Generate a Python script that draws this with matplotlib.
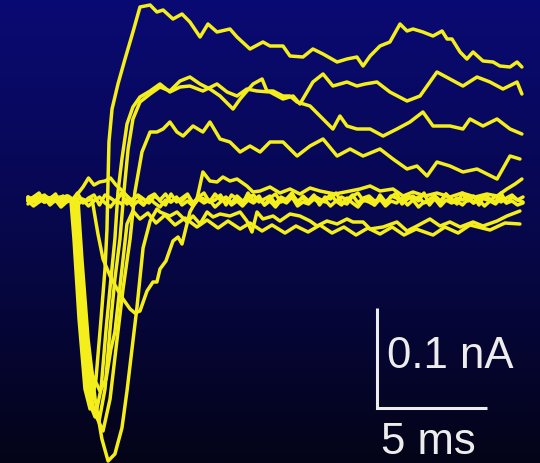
import numpy as np
import matplotlib
matplotlib.use("Agg")
import matplotlib.pyplot as plt
from matplotlib.colors import LinearSegmentedColormap

# ---------------------------------------------------------------------------
# Whole-cell voltage-clamp sweeps: time (ms) and membrane current (pA)
# ---------------------------------------------------------------------------

# sweep 1 – largest outward current
sweep1_t = [0.00, 0.36, 0.77, 1.14, 1.50, 1.77, 1.95, 2.09, 2.32, 2.59, 2.82,
            3.09, 3.32, 3.50, 3.59, 3.64, 3.68, 3.82, 4.09, 4.41, 4.77, 5.09,
            5.55, 5.86, 6.14, 6.59, 7.00, 7.36, 7.82, 8.18, 8.59, 9.18, 9.50,
            10.09, 10.68, 11.00, 11.59, 11.91, 12.50, 12.95, 13.41, 14.05,
            14.50, 14.95, 15.23, 15.55, 16.00, 16.45, 16.91, 17.23, 17.50,
            17.95, 18.41, 18.82, 19.05, 19.27, 19.64, 19.95, 20.23, 20.68,
            21.14, 21.45, 21.91, 22.23, 22.45]
sweep1_pA = [-1, 3, -3, 2, -2, 3, -1, -40, -120, -190, -210,
             -180, -120, -70, -30, 20, 57, 90, 115, 140, 167, 192,
             194, 187, 189, 180, 185, 177, 162, 175, 167, 170, 162,
             150, 157, 153, 153, 143, 142, 150, 145, 137,
             140, 142, 133, 143, 153, 157, 175, 168, 170,
             167, 163, 168, 160, 160, 147, 140, 147, 138,
             137, 133, 132, 137, 132]

# sweep 2
sweep2_t = [0.00, 0.32, 0.68, 1.05, 1.41, 1.73, 2.05, 2.18, 2.41, 2.73, 3.05,
            3.32, 3.55, 3.77, 3.95, 4.09, 4.27, 4.50, 4.77, 5.09, 5.55, 6.00,
            6.45, 6.91, 7.36, 7.95, 8.59, 9.05, 9.50, 9.95, 10.41, 11.00,
            11.59, 12.05, 12.36, 12.95, 13.41, 13.86, 14.50, 14.95, 15.32,
            15.86, 16.45, 17.23, 17.82, 18.59, 19.18, 19.77, 20.41, 21.00,
            21.59, 22.23, 22.45]
sweep2_pA = [1, -3, 3, -2, 2, -3, 0, -50, -130, -200, -218,
             -190, -130, -80, -40, 7, 40, 75, 92, 102, 108, 115,
             107, 112, 113, 108, 115, 107, 103, 110, 108, 107,
             100, 103, 95, 117, 125, 113, 117, 113, 115,
             117, 107, 98, 103, 127, 120, 113, 122, 117,
             110, 117, 105]

# sweep 3
sweep3_t = [0.00, 0.41, 0.82, 1.18, 1.55, 1.86, 2.14, 2.27, 2.50, 2.82, 3.23,
            3.50, 3.73, 3.95, 4.18, 4.36, 4.55, 4.77, 5.09, 5.55, 6.00, 6.45,
            6.91, 7.36, 7.82, 8.27, 8.73, 9.32, 9.64, 9.95, 10.23, 10.64,
            10.86, 11.14, 11.59, 11.91, 12.23, 12.82, 13.41, 13.86, 14.18,
            14.50, 14.95, 15.55, 16.14, 16.77, 17.36, 17.95, 18.41, 19.18,
            19.77, 20.09, 20.68, 21.32, 21.91, 22.45]
sweep3_pA = [-2, 2, -1, 3, -3, 1, -1, -50, -130, -200, -222,
             -190, -130, -80, -40, 7, 50, 80, 97, 105, 112, 108,
             118, 122, 115, 110, 103, 90, 100, 108, 115, 120,
             108, 108, 103, 103, 97, 93, 80, 70, 83,
             73, 70, 70, 63, 70, 77, 87, 73, 73,
             70, 80, 73, 80, 70, 65]

# sweep 4
sweep4_t = [0.00, 0.27, 0.64, 1.00, 1.36, 1.68, 2.23, 2.36, 2.64, 2.95, 3.41,
            3.73, 4.05, 4.32, 4.64, 4.86, 5.18, 5.55, 5.86, 6.14, 6.45, 6.77,
            7.05, 7.50, 7.95, 8.27, 8.73, 9.18, 9.64, 10.09, 10.55, 11.00,
            11.59, 12.23, 12.82, 13.41, 14.05, 14.64, 15.23, 16.00, 16.59,
            17.23, 17.68, 18.14, 18.59, 19.18, 19.77, 20.41, 21.32, 21.91,
            22.36]
sweep4_pA = [1, -2, 2, -3, 1, -2, 0, -50, -140, -210, -232,
             -200, -140, -90, -40, 7, 47, 67, 67, 70, 77, 67,
             63, 73, 67, 77, 60, 57, 47, 53, 47, 57,
             57, 43, 53, 60, 43, 50, 43, 50, 40,
             30, 33, 23, 37, 33, 27, 30, 20, 43,
             40]

# sweep 5 – slow, late inward current, small outward hump
sweep5_t = [0.00, 0.45, 0.86, 1.23, 1.59, 2.00, 2.36, 2.68, 2.91, 3.18, 3.41,
            3.73, 4.05, 4.32, 4.64, 4.86, 5.09, 5.41, 5.68, 5.86, 6.00, 6.27,
            6.59, 6.82, 7.00, 7.36, 7.68, 7.95, 8.27, 8.59, 8.86, 9.18, 9.50,
            9.95, 10.23, 10.55, 11.00, 11.45, 11.91, 12.36, 12.82, 13.27,
            13.95, 14.64, 15.09, 15.55, 16.00, 16.59, 17.05, 17.50, 18.05,
            18.59, 19.18, 19.73, 20.32, 20.86, 21.32, 21.77, 22.14, 22.45]
sweep5_pA = [0, -3, 2, -2, 3, -2, 1, -2, 0, -35, -60,
             -77, -90, -100, -110, -114, -112, -92, -83, -83, -70, -62,
             -42, -38, -45, -13, 0, 27, 18, 17, 22, 18, 20,
             13, 7, 8, 12, 6, 10, 5, 11, 8,
             5, 8, 10, 13, 8, 10, 3, 7, 3,
             6, 2, 6, 2, 5, 3, 10, 15, 20]

# sweep 6 – deepest inward current, net inward afterwards
sweep6_t = [0.00, 0.41, 0.77, 1.14, 1.50, 1.91, 2.27, 2.45, 2.73, 3.05, 3.36,
            3.64, 3.95, 4.27, 4.50, 4.77, 4.95, 5.23, 5.55, 5.86, 6.00, 6.45,
            6.77, 7.23, 7.50, 7.82, 8.14, 8.41, 8.73, 9.18, 9.64, 9.95, 10.18,
            10.41, 10.68, 11.14, 11.45, 11.91, 12.36, 12.82, 13.14, 13.59,
            14.05, 14.50, 14.77, 15.23, 15.55, 16.14, 16.77, 17.23, 17.68,
            18.27, 18.73, 19.18, 19.64, 20.23, 20.68, 21.32, 21.77, 22.36]
sweep6_pA = [2, -2, 1, -3, 2, -2, 0, -60, -140, -200, -240,
             -262, -255, -229, -192, -142, -109, -49, -22, -10, -13, -17,
             -13, -23, -17, -25, -13, -18, -15, -17, -13, -22, -33,
             -13, -20, -17, -22, -15, -17, -22, -27, -22,
             -25, -20, -23, -23, -30, -28, -23, -32, -27,
             -20, -27, -23, -28, -23, -27, -22, -17, -12]

# sweep 7 – moderate inward current, net inward afterwards
sweep7_t = [0.00, 0.36, 0.73, 1.09, 1.45, 1.82, 2.09, 2.27, 2.55, 2.91, 3.27,
            3.55, 3.77, 3.95, 4.27, 4.50, 4.77, 5.09, 5.45, 5.82, 6.23, 6.68,
            7.14, 7.68, 8.14, 8.64, 9.09, 9.64, 10.09, 10.64, 11.09, 11.68,
            12.18, 12.73, 13.27, 13.82, 14.36, 14.91, 15.45, 16.00, 16.55,
            17.09, 17.64, 18.41, 18.95, 19.55, 20.09, 21.00, 21.68, 22.36]
sweep7_pA = [-1, 2, -3, 1, -2, 3, -1, -60, -130, -175, -192,
             -180, -150, -133, -70, -25, -12, -20, -14, -24, -16, -26,
             -19, -28, -21, -29, -22, -30, -24, -32, -26, -34,
             -27, -33, -26, -34, -28, -36, -29, -35, -28,
             -36, -30, -36, -28, -34, -26, -31, -24, -25]

# sweeps 8-10 – subthreshold steps, sampled every 0.25 ms
baseline_dt = 0.25
sweep8_pA = [2, -3, 1, 4, -2, 3, -4, 2, -1,
             5, 12, 21, 14, 17, 18, 21, 14, 9, 3,
             -2, 4, 0, -4, 3, -1, 5, -3, 1,
             -2, 4, -4, 2, 0, -3, 5, -1, 2,
             -4, 3, -2, 1, 4, -3, 0, 3, -5,
             2, -1, 4, -2, 1, -4, 3, 0, -3,
             5, -2, 2, -1, 4, -4, 1, 3, -2,
             0, -5, 3, 1, -3, 4, -1, 2, -4,
             0, 3, -2, 5, -3, 1, -1, 4, -4,
             2, 0, -2, 3, -3, 1, 4, -1, 2]
sweep9_pA = [-5, 2, 6, -3, 0, 5, -6, 3, -2, 6, -4, 1, 4,
             -6, 4, 1, -3, 6, -5, 0, 3, -6, 2, 5, -2, -6,
             5, -3, 1, 5, -5, 2, 6, -3, -1, 4, -6, 4, 0,
             -5, 6, -2, 3, -6, 1, 5, -3, 0, 6, -4, 3, -2,
             4, -6, 2, 0, 6, -3, -5, 3, 6, -2, 0, -6, 4,
             -3, 2, 6, -5, 0, 3, -2, 6, -6, 1, -3, 5, 0,
             -5, 6, -2, 3, -6, 4, 0, -3, 6, -4, 2, -1, -3]
sweep10_pA = [-2, -7, -3, 1, -6, -1, -8, -3, 0, -6, -1, -7, -2,
              2, -4, -8, -1, -5, 0, -7, -2, -6, 1, -4, -8, -1,
              -3, 2, -6, -2, -7, 0, -4, -1, -8, -3, 1, -6, -2,
              -7, -1, -4, 1, -6, -2, -8, -1, -4, 2, -7, -3, -5,
              0, -4, -1, -7, -2, -6, 1, -4, -8, -1, -3, -6, 0,
              -7, -2, -4, 1, -6, -1, -8, -3, -4, 0, -7, -1, -4,
              -2, -6, 0, -4, -1, -7, -2, -5, 1, -4, -2, -6, -4]

# calibration bar
scale_ms = 5
scale_pA = 100
scale_current_label = "0.1 nA"
scale_time_label = "5 ms"

# ---------------------------------------------------------------------------
# Figure
# ---------------------------------------------------------------------------
TRACE = "#F3EE1C"
CAL = "#EDEDED"

fig = plt.figure(figsize=(5.4, 4.64), dpi=100)
ax = fig.add_axes([0, 0, 1, 1])
xmin, xmax = -28 / 22, 512 / 22
ymin, ymax = -264, 200
ax.set_xlim(xmin, xmax)
ax.set_ylim(ymin, ymax)
ax.axis("off")

# navy-to-black backdrop
bg = LinearSegmentedColormap.from_list("bg", ["#0A0A74", "#07074C", "#040418"])
grad = np.linspace(0, 1, 256).reshape(-1, 1)
ax.imshow(grad, cmap=bg, extent=[xmin, xmax, ymin, ymax], aspect="auto",
          origin="upper", zorder=0, interpolation="bilinear")

sweeps = [
    (sweep1_t, sweep1_pA), (sweep2_t, sweep2_pA), (sweep3_t, sweep3_pA),
    (sweep4_t, sweep4_pA), (sweep5_t, sweep5_pA), (sweep6_t, sweep6_pA),
    (sweep7_t, sweep7_pA),
]
for vals in (sweep8_pA, sweep9_pA, sweep10_pA):
    sweeps.append((np.arange(len(vals)) * baseline_dt, vals))

for t, i in sweeps:
    ax.plot(t, i, color=TRACE, lw=2.5, solid_joinstyle="round",
            solid_capstyle="round", zorder=2)

# calibration bar
bx, by = 15.86, -209
ax.plot([bx, bx, bx + scale_ms], [by + scale_pA, by, by], color=CAL, lw=2.2,
        solid_joinstyle="miter", solid_capstyle="butt", zorder=3)
ax.text(bx + 0.46, -168, scale_current_label, color=CAL, fontsize=31.5,
        family="Liberation Sans", ha="left", va="baseline", zorder=3)
ax.text(bx + 0.19, -254, scale_time_label, color=CAL, fontsize=31.5,
        family="Liberation Sans", ha="left", va="baseline", zorder=3)

fig.savefig("out.png", dpi=100)
